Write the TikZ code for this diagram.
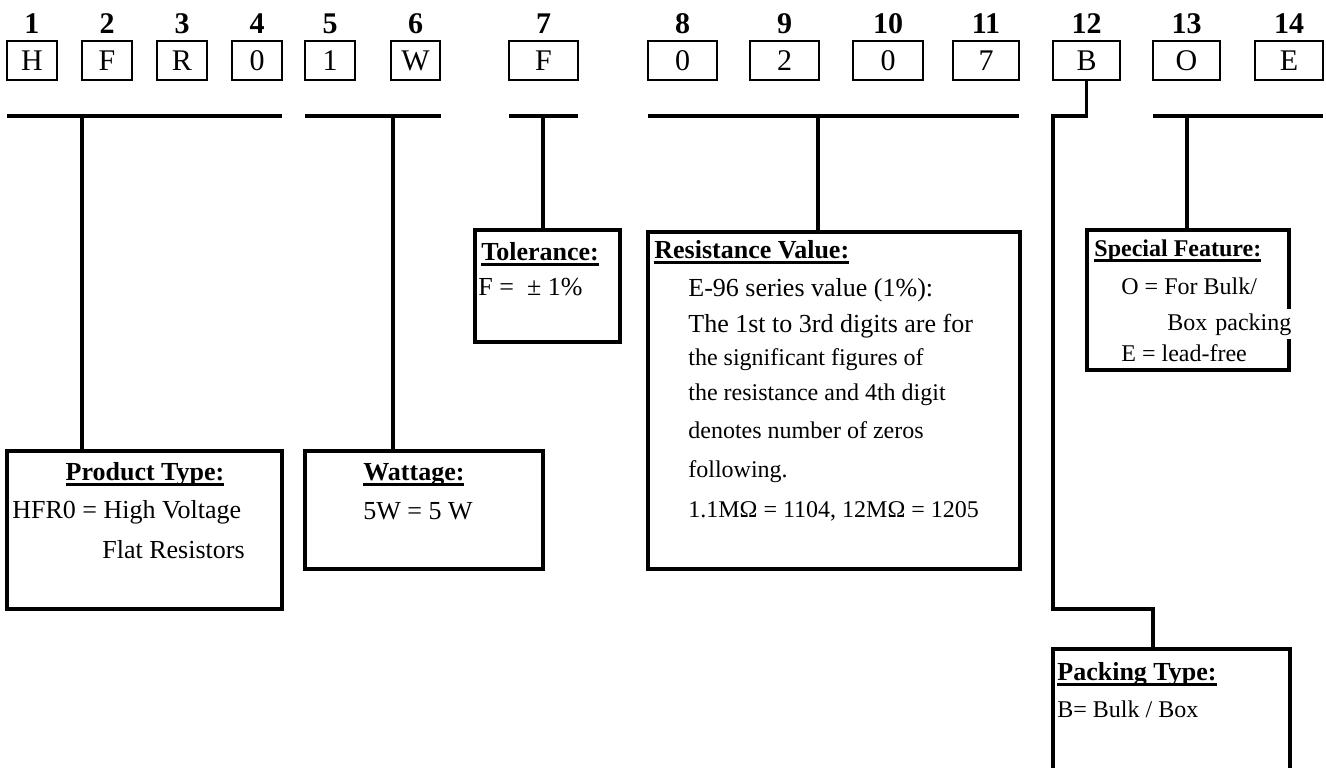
\documentclass[tikz,border=0pt]{standalone}
\usepackage{fontspec}
\setmainfont{Liberation Serif}
\newcommand{\headul}[1]{\setbox0=\hbox{#1}\rlap{\rule[-2.8pt]{\wd0}{1.3pt}}\box0}
\begin{document}
\begin{tikzpicture}[x=0.5pt,y=-0.5pt,
  cbox/.style={draw, line width=1.4pt, minimum height=19.5pt, inner sep=0pt, font=\fontsize{15}{18}\selectfont},
  digit/.style={anchor=base, inner sep=0pt, font=\bfseries\fontsize{15}{18}\selectfont},
  bar/.style={line width=1.75pt},
  infobox/.style={draw, line width=1.6pt, anchor=north west, inner sep=0pt, outer sep=0pt},
  head/.style={anchor=base west, inner sep=0pt, font=\bfseries\fontsize{13}{15}\selectfont},
  body/.style={anchor=base west, inner sep=0pt, font=\fontsize{13}{15}\selectfont},
  smalltext/.style={anchor=base west, inner sep=0pt, font=\fontsize{12}{14}\selectfont},
  spectext/.style={anchor=base west, inner sep=0pt, font=\fontsize{12}{14}\selectfont}]
\clip (0,0) rectangle (1326,767);
\foreach \i/\x/\w/\t in {1/32/50/H, 2/107/50/F, 3/182/50/R, 4/257/50/0, 5/330/50/1, 6/415.5/49/W, 7/543.5/69/F, 8/682.5/69/0, 9/784.5/69/2, 10/888/70/0, 11/986/66/7, 12/1086.5/67/B, 13/1186.5/67/O, 14/1289/68/E}{
  \node[cbox, minimum width=\w*0.5pt] (c\i) at (\x,60.5) {\t};
  \node[digit] (n\i) at (\x,33) {\i};
}
% boxes
\node[infobox, minimum width=137.5pt, minimum height=79pt] (prod) at (7,451) {};
\node[infobox, minimum width=119pt, minimum height=59pt] (watt) at (305,451) {};
\node[infobox, minimum width=72.5pt, minimum height=56pt] (tol) at (475,230) {};
\node[infobox, minimum width=186pt, minimum height=168.5pt] (res) at (648,232) {};
\node[infobox, minimum width=101pt, minimum height=70pt] (spec) at (1087,230) {};
\node[infobox, minimum width=118.5pt, minimum height=70pt] (pack) at (1053,649) {};
% bars and stems
\coordinate (prodL) at (7,116); \coordinate (prodR) at (282,116); \coordinate (prodS) at (82,116);
\coordinate (wattL) at (305,116); \coordinate (wattR) at (441,116); \coordinate (wattS) at (393,116);
\coordinate (tolL) at (509,116); \coordinate (tolR) at (578,116); \coordinate (tolS) at (543,116);
\coordinate (resL) at (648,116); \coordinate (resR) at (1019,116); \coordinate (resS) at (818,116);
\coordinate (specL) at (1153,116); \coordinate (specR) at (1323,116); \coordinate (specS) at (1187,116);
\coordinate (packA) at (1053,116); \coordinate (packB) at (1053,609); \coordinate (packC) at (1153,609);
\foreach \n in {prod,watt,tol,res,spec}{
  \draw[bar] (\n L) -- (\n R);
  \draw[bar] (\n S) -- (\n S |- \n.north);
}
\draw[bar] (c12.south) |- (packA) -- (packB) -- (packC) -- (packC |- pack.north);
% texts
\node[head, anchor=base] (prodHead) at (145,480) {\headul{Product Type:}};
\node[body] (prodL1) at (12,518) {HFR0 = High Voltage};
\node[body] (prodL2) at (102,558) {Flat Resistors};
\node[head] (wattHead) at (363,480) {\headul{Wattage:}};
\node[body] (wattL1) at (363,519) {5W = 5 W};
\node[head] (tolHead) at (481,260) {\headul{Tolerance:}};
\node[body] (tolL1) at (478,295) {F = \ ± 1\%};
\node[head] (resHead) at (654,258) {\headul{Resistance Value:}};
\node[body] (resL1) at (688,296) {E-96 series value (1\%):};
\node[body] (resL2) at (688,332) {The 1st to 3rd digits are for};
\node[smalltext] (resL3) at (688,365) {the significant figures of};
\node[smalltext] (resL4) at (688,400) {the resistance and 4th digit};
\node[smalltext] (resL5) at (688,438) {denotes number of zeros};
\node[smalltext] (resL6) at (688,477) {following.};
\node[smalltext] (resL7) at (688,517) {1.1MΩ = 1104, 12MΩ = 1205};
\node[head, font=\bfseries\fontsize{12}{14}\selectfont] (specHead) at (1094,256) {\headul{Special Feature:}};
\node[spectext] (specL1) at (1121,294) {O = For Bulk/};
\node[spectext, fill=white, inner ysep=2pt, text width=64pt, align=left] (specL2) at (1167,330) {Box packing};
\node[spectext] (specL3) at (1121,361) {E = lead-free};
\node[head] (packHead) at (1057,680) {\headul{Packing Type:}};
\node[smalltext] (packL1) at (1057,717) {B= Bulk / Box};
\end{tikzpicture}
\end{document}
